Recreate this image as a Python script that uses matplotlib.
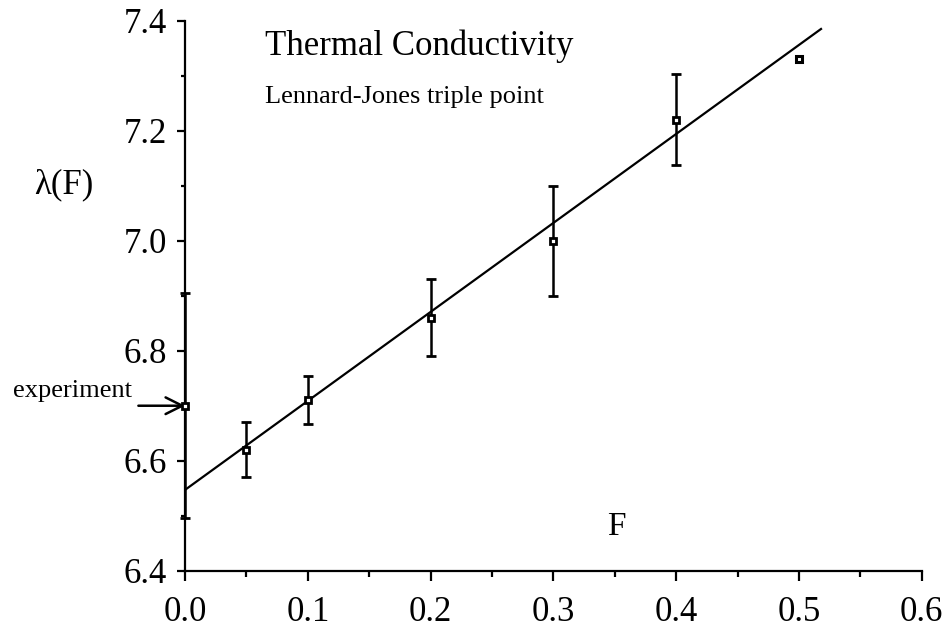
import matplotlib
matplotlib.use('Agg')
import matplotlib.pyplot as plt
from matplotlib.ticker import MultipleLocator

plt.rcParams['font.family'] = ['Liberation Serif', 'DejaVu Serif']

# simulation points: field strength F, conductivity, error half-width
F_vals = [0.0, 0.05, 0.1, 0.2, 0.3, 0.4]
lam_vals = [6.70, 6.62, 6.71, 6.86, 7.00, 7.22]
lam_err = [0.205, 0.05, 0.044, 0.07, 0.10, 0.083]

# point without error bar
F_extra = [0.5]
lam_extra = [7.33]

# straight-line fit end points
fit_x = [0.0, 0.518]
fit_y = [6.547, 7.385]

x_ticks = [0.0, 0.1, 0.2, 0.3, 0.4, 0.5, 0.6]
y_ticks = [6.4, 6.6, 6.8, 7.0, 7.2, 7.4]

fig = plt.figure(figsize=(9.46, 6.28), dpi=100)
ax = fig.add_axes([0.1956, 0.0912, 0.7787, 0.8758])

ax.plot(fit_x, fit_y, color='black', lw=1.6, zorder=2)
ax.errorbar(F_vals, lam_vals, yerr=lam_err, fmt='s', color='black',
            mfc='white', mec='black', ms=5, mew=2.0, elinewidth=1.8,
            capsize=3.6, capthick=1.8, clip_on=False, zorder=3)
ax.plot(F_extra, lam_extra, 's', mfc='white', mec='black', ms=5, mew=2.2,
        clip_on=False, zorder=3)

ax.set_xlim(0, 0.6)
ax.set_ylim(6.4, 7.4)
ax.set_xticks(x_ticks)
ax.set_yticks(y_ticks)
ax.set_xticklabels([f'{v:.1f}' for v in x_ticks])
ax.set_yticklabels([f'{v:.1f}' for v in y_ticks])
ax.xaxis.set_minor_locator(MultipleLocator(0.05))
ax.yaxis.set_minor_locator(MultipleLocator(0.1))

for s in ('top', 'right'):
    ax.spines[s].set_visible(False)
for s in ('left', 'bottom'):
    ax.spines[s].set_linewidth(1.6)

ax.tick_params(axis='x', which='major', direction='out', length=7, width=1.6,
               labelsize=25, pad=11)
ax.tick_params(axis='x', which='minor', direction='out', length=4, width=1.6)
ax.tick_params(axis='y', which='major', direction='out', length=6, width=1.6,
               labelsize=25, pad=7)
ax.tick_params(axis='y', which='minor', direction='out', length=3, width=1.6)

ax.text(0.065, 7.3376, 'Thermal Conductivity', fontsize=25, va='baseline')
ax.text(0.065, 7.250, 'Lennard-Jones triple point', fontsize=19, va='baseline')
ax.text(0.3437, 6.465, 'F', fontsize=24, va='baseline')
ax.text(-0.123, 7.101, 'λ(F)', fontsize=25, va='center', ha='left', clip_on=False)
ax.text(-0.140, 6.716, 'experiment', fontsize=19, va='baseline', ha='left',
        clip_on=False)
ax.annotate('', xy=(0.0, 6.70), xytext=(-0.038, 6.70),
            arrowprops=dict(arrowstyle='->', lw=1.8, color='black',
                            mutation_scale=30, shrinkA=0, shrinkB=0),
            annotation_clip=False)

plt.savefig('out.png', dpi=100)
plt.close()
